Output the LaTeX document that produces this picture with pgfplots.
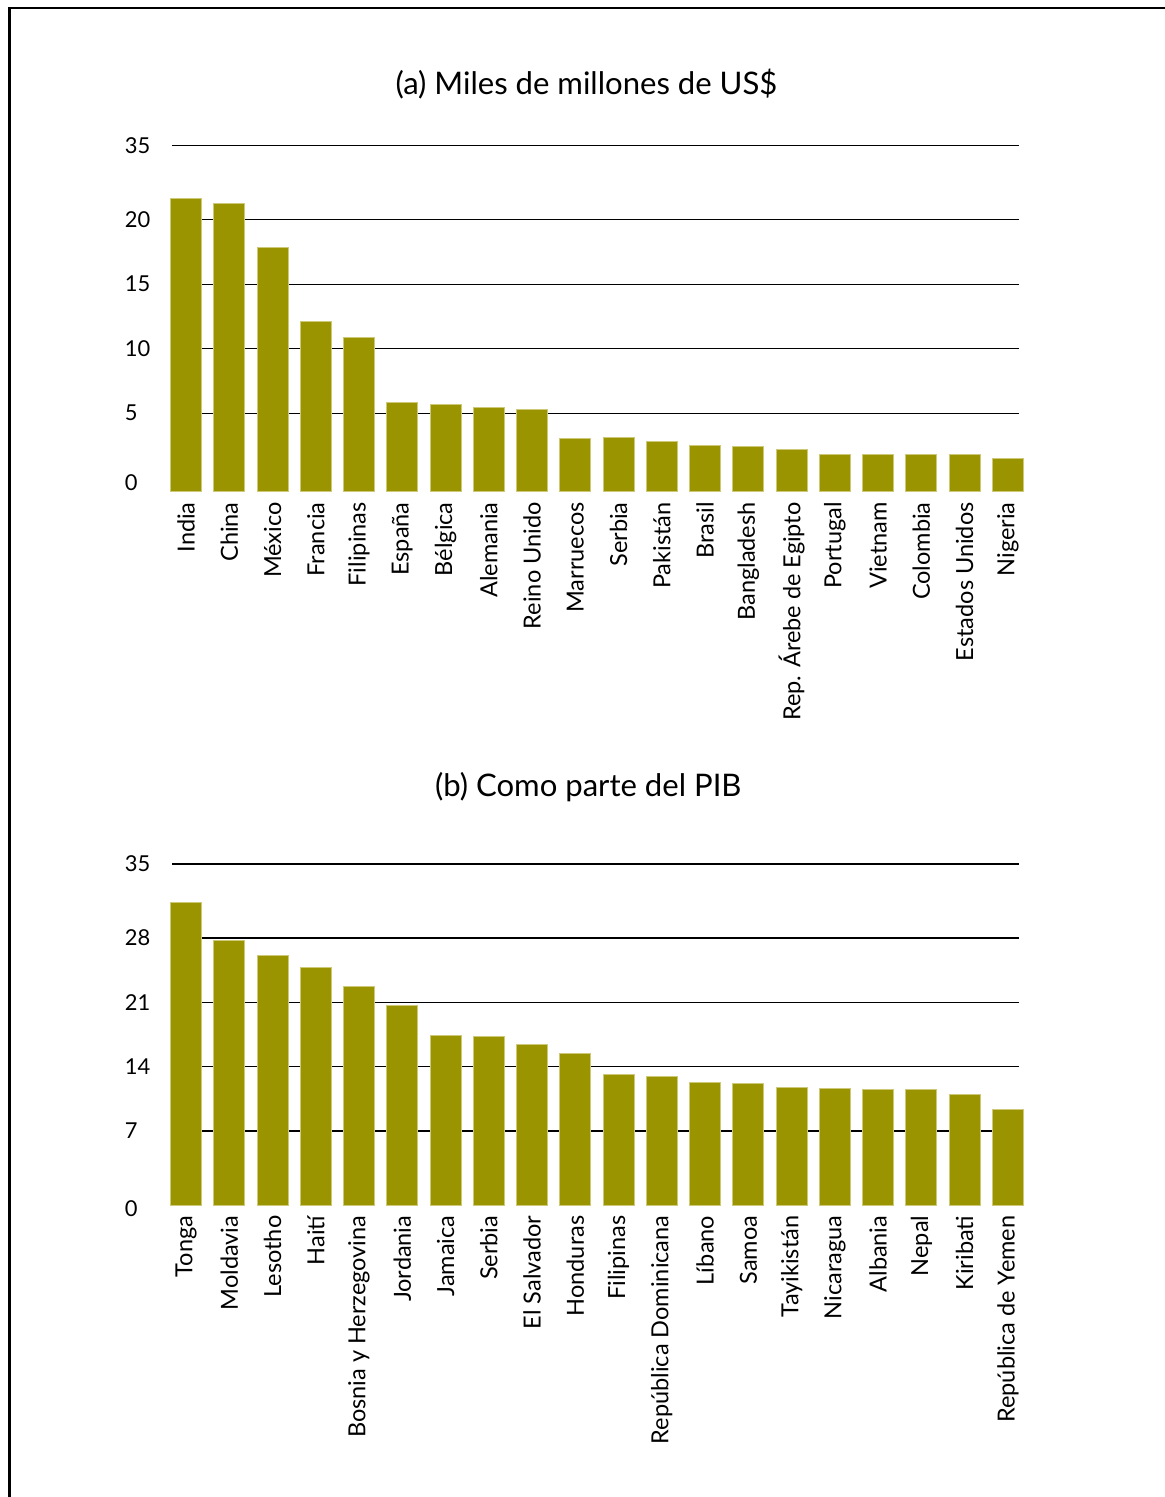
\documentclass[border=0pt]{standalone}
\usepackage{pgfplots}
\pgfplotsset{compat=1.18}
\usepackage{pgfplotstable}
\usepackage{fontspec}
\setmainfont{Lato}
\definecolor{barcol}{RGB}{153,148,0}
\definecolor{baredge}{RGB}{205,201,120}
\newcommand\titfont{\fontsize{15.6}{18}\selectfont}
\newcommand\labfont{\fontsize{11.8}{14}\selectfont}
\newcommand\tickfont{\fontsize{11}{13}\selectfont}

% top chart: miles de millones de US$
\pgfplotstableread{
i v
0 21.60
1 21.27
2 17.86
3 12.09
4 10.85
5 5.81
6 5.66
7 5.43
8 5.30
9 3.02
10 3.10
11 2.82
12 2.51
13 2.38
14 2.15
15 1.81
16 1.81
17 1.81
18 1.81
19 1.47
}\topdata

% bottom chart: como parte del PIB
\pgfplotstableread{
i v
0 31.84
1 27.70
2 26.12
3 24.84
4 22.77
5 20.67
6 17.41
7 17.30
8 16.46
9 15.48
10 13.17
11 12.91
12 12.22
13 12.11
14 11.75
15 11.60
16 11.49
17 11.49
18 10.95
19 9.31
}\botdata

\pgfplotsset{
  common/.style={
    scale only axis, anchor=south west,
    width=423.2bp,
    xmin=-0.317, xmax=19.25, ymin=0,
    axis line style={draw=none},
    major tick length=0pt,
    xtick={0,...,19},
    xticklabel style={rotate=90, anchor=east, inner sep=0pt, font=\labfont},
    xticklabel shift=5bp,
    yticklabel style={anchor=west, inner sep=0pt, xshift=-23.9bp, font=\tickfont},
    /pgf/number format/assume math mode=true,
    ymajorgrids,
    grid style={black, line width=0.6bp},
    extra y tick style={grid=none},
    clip=false,
    title style={at={(0.5,1)}, anchor=base, inner sep=0pt, font=\titfont},
  },
  bars/.style={ybar, bar width=15.5bp, fill=barcol, draw=baredge, line width=0.5bp},
}

\begin{document}
\begin{tikzpicture}
\useasboundingbox (0,0) rectangle (582.5bp,748.5bp);
\draw[line width=1.3bp, black] (4.75bp,-5bp) -- (4.75bp,744.5bp) -- (600bp,744.5bp);

\begin{axis}[common,
  at={(86.15bp,502.5bp)}, height=173.15bp, ymax=26.84,
  xticklabels={India,China,México,Francia,Filipinas,España,Bélgica,Alemania,Reino Unido,Marruecos,Serbia,Pakistán,Brasil,Bangladesh,Rep. Árebe de Egipto,Portugal,Vietnam,Colombia,Estados Unidos,Nigeria},
  ytick={6.11,11.11,16.11,21.11,26.84}, yticklabels={5,10,15,20,35},
  extra y ticks={0.70}, extra y tick labels={0},
  title={(a) Miles de millones de US\$},
  title style={yshift=19.5bp, xshift=-4.5bp},
]
\addplot[bars] table[x=i, y expr=\thisrow{v}+1.11] {\topdata};
\end{axis}

\begin{axis}[common,
  at={(86.15bp,145.85bp)}, height=170.65bp, ymax=37.14,
  xticklabels={Tonga,Moldavia,Lesotho,Haití,Bosnia y Herzegovina,Jordania,Jamaica,Serbia,El Salvador,Honduras,Filipinas,República Dominicana,Líbano,Samoa,Tayikistán,Nicaragua,Albania,Nepal,Kiribati,República de Yemen},
  ytick={8.09,15.09,22.09,29.09,37.14}, yticklabels={7,14,21,28,35},
  extra y ticks={0}, extra y tick labels={0},
  extra y tick style={grid=none, yticklabel style={yshift=-1.85bp}},
  title={(b) Como parte del PIB},
  title style={yshift=27.6bp, xshift=-3.6bp},
]
\addplot[bars] table[x=i, y expr=\thisrow{v}+1.09] {\botdata};
\end{axis}
\end{tikzpicture}
\end{document}
